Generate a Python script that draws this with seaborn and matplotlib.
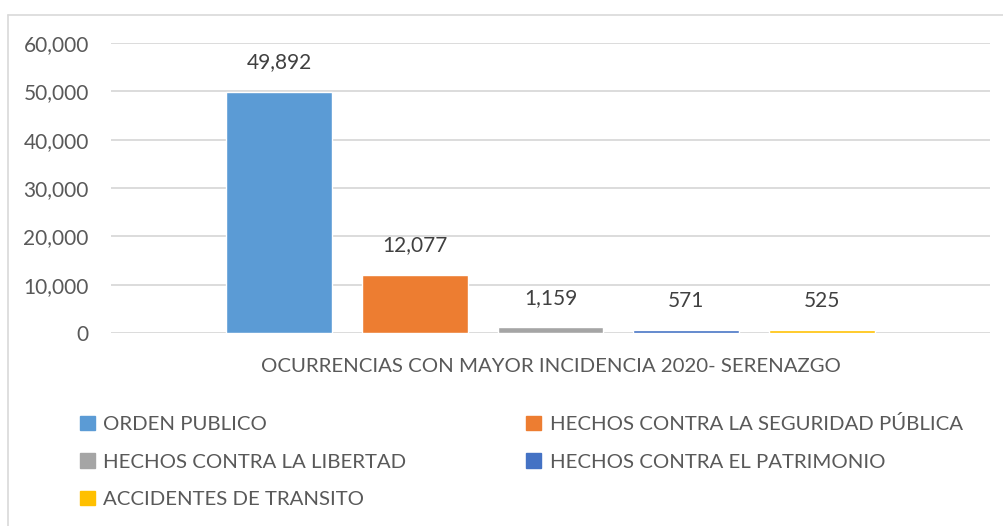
import matplotlib
matplotlib.use('Agg')
import matplotlib.pyplot as plt
import seaborn as sns
import pandas as pd
from matplotlib.lines import Line2D

# Données
grupo = 'OCURRENCIAS CON MAYOR INCIDENCIA 2020- SERENAZGO'
categorias = ['ORDEN PUBLICO', 'HECHOS CONTRA LA SEGURIDAD PÚBLICA',
              'HECHOS CONTRA LA LIBERTAD', 'HECHOS CONTRA EL PATRIMONIO',
              'ACCIDENTES DE TRANSITO']
valores = [49892, 12077, 1159, 571, 525]
colores = ['#5B9BD5', '#ED7D31', '#A5A5A5', '#4472C4', '#FFC000']
yticks = [0, 10000, 20000, 30000, 40000, 50000, 60000]

df = pd.DataFrame({'grupo': [grupo] * len(categorias),
                   'categoria': categorias, 'valor': valores})

sns.set_style('white')
plt.rcParams['font.family'] = ['Lato', 'DejaVu Sans']
texto = '#595959'

fig = plt.figure(figsize=(10.04, 5.26), dpi=100)
ax = fig.add_axes([111 / 1004, 1 - 333 / 526, 879 / 1004, 290 / 526])

sns.barplot(data=df, x='grupo', y='valor', hue='categoria',
            palette=colores, saturation=1, width=0.771, gap=0.218,
            ax=ax, legend=False)

for cont in ax.containers:
    ax.bar_label(cont, fmt='{:,.0f}', padding=14, fontsize=15, color='#404040')

ax.set_ylim(0, 60000)
ax.set_xlim(-0.5, 0.5)
ax.set_yticks(yticks)
ax.set_yticklabels([f'{v:,}' for v in yticks], fontsize=15, color=texto)
ax.tick_params(axis='x', labelsize=14.7, colors=texto, pad=18, length=0)
ax.tick_params(axis='y', length=0, pad=16)
ax.set_xlabel('')
ax.set_ylabel('')
ax.grid(axis='y', color='#D9D9D9', linewidth=1.3)
ax.set_axisbelow(True)
for s in ax.spines.values():
    s.set_visible(False)

# Légende en deux colonnes, ordre par lignes
handles = [plt.Rectangle((0, 0), 1, 1, color=c) for c in colores]
orden = [0, 2, 4, 1, 3]
fig.legend([handles[i] for i in orden], [categorias[i] for i in orden],
           ncol=2, loc='upper left', bbox_to_anchor=(80 / 1004, 1 - 415 / 526),
           frameon=False, fontsize=14.7, handlelength=0.75, handleheight=0.7,
           handletextpad=0.4, columnspacing=5.85, labelspacing=1.0,
           borderpad=0, borderaxespad=0, labelcolor=texto)

# Cadre du graphique
fig.add_artist(Line2D([8 / 1004, 8 / 1004], [0, 1 - 15 / 526],
                      transform=fig.transFigure, color='#D9D9D9', lw=1.2))
fig.add_artist(Line2D([8 / 1004, 1], [1 - 15 / 526, 1 - 15 / 526],
                      transform=fig.transFigure, color='#D9D9D9', lw=1.2))

fig.savefig('out.png', dpi=100)
